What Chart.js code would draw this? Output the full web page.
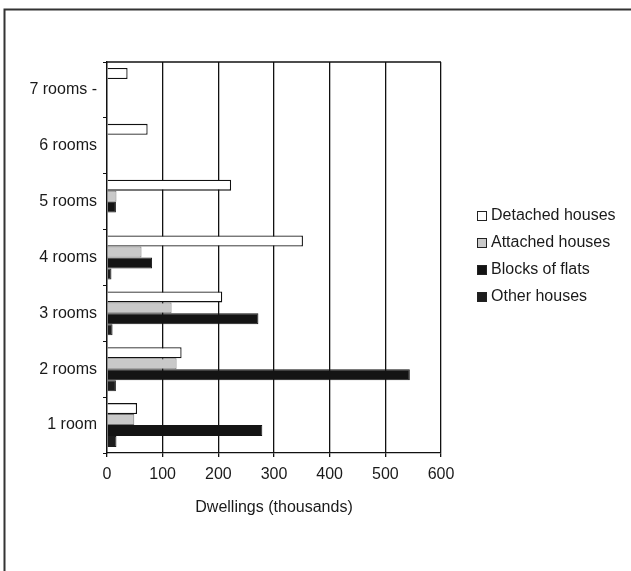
<!DOCTYPE html>
<html>
<head>
<meta charset="utf-8">
<script src="https://cdn.jsdelivr.net/npm/chart.js@4"></script>
<style>
  html, body { margin: 0; padding: 0; background: #fff; }
  canvas { display: block; }
</style>
</head>
<body>
<canvas id="roomsChart" width="631" height="571"></canvas>
<script>
const categories = ['7 rooms -', '6 rooms', '5 rooms', '4 rooms', '3 rooms', '2 rooms', '1 room'];
const detached = [37, 73, 223, 352, 207, 134, 54];
const attached = [0, 0, 17, 62, 116, 125, 49];
const blocks = [0, 0, 16, 81, 272, 544, 279];
const other = [0, 0, 0, 8, 10, 16, 17];
const xTicks = [0, 100, 200, 300, 400, 500, 600];

const FONT = '"Liberation Sans", Arial, sans-serif';
const INK = '#1a1a1a';

// frame, top edge of the plot and the legend on the right
const extras = {
  id: 'extras',
  afterDraw(chart) {
    const ctx = chart.ctx;
    const area = chart.chartArea;
    ctx.save();
    ctx.strokeStyle = '#333';
    ctx.lineWidth = 2;
    ctx.beginPath();
    ctx.moveTo(4.5, 571);
    ctx.lineTo(4.5, 9.5);
    ctx.lineTo(631, 9.5);
    ctx.stroke();

    ctx.strokeStyle = '#111';
    ctx.lineWidth = 1.3;
    ctx.beginPath();
    ctx.moveTo(area.left, area.top);
    ctx.lineTo(area.right, area.top);
    ctx.stroke();

    ctx.font = '16px ' + FONT;
    ctx.textBaseline = 'middle';
    chart.data.datasets.forEach((ds, i) => {
      const y = 216 + i * 27;
      ctx.fillStyle = ds.backgroundColor;
      ctx.fillRect(477, y - 5, 10, 10);
      ctx.strokeStyle = '#222';
      ctx.lineWidth = 1;
      ctx.strokeRect(477.5, y - 4.5, 9, 9);
      ctx.fillStyle = INK;
      ctx.fillText(ds.label, 491, y);
    });
    ctx.restore();
  }
};

new Chart(document.getElementById('roomsChart'), {
  type: 'bar',
  data: {
    labels: categories,
    datasets: [
      { label: 'Detached houses', data: detached, backgroundColor: '#ffffff', borderColor: '#111', borderWidth: 1.3 },
      { label: 'Attached houses', data: attached, backgroundColor: '#c9c9c9', borderColor: '#777', borderWidth: 1 },
      { label: 'Blocks of flats', data: blocks, backgroundColor: '#141414', borderColor: '#141414', borderWidth: 1 },
      { label: 'Other houses', data: other, backgroundColor: '#1e1e1e', borderColor: '#1e1e1e', borderWidth: 1 }
    ]
  },
  options: {
    indexAxis: 'y',
    responsive: false,
    animation: false,
    datasets: { bar: { categoryPercentage: 0.786, barPercentage: 1, borderSkipped: 'start' } },
    layout: { padding: { left: 0, top: 62, right: 190, bottom: 0 } },
    plugins: { legend: { display: false }, tooltip: { enabled: false } },
    scales: {
      x: {
        min: 0,
        max: 600,
        afterBuildTicks: (axis) => { axis.ticks = xTicks.map(v => ({ value: v })); },
        afterFit: (axis) => { axis.height = 118; },
        grid: { color: '#111', lineWidth: 1.3, tickLength: 4 },
        border: { color: '#111', width: 1.3 },
        ticks: { color: INK, font: { family: FONT, size: 16 }, padding: 8 },
        title: {
          display: true,
          text: 'Dwellings (thousands)',
          color: INK,
          font: { family: FONT, size: 16 },
          padding: { top: 0, bottom: 54 }
        }
      },
      y: {
        afterFit: (axis) => { axis.width = 107; },
        grid: { drawOnChartArea: false, color: '#111', tickLength: 4, offset: true },
        border: { color: '#111', width: 1.3 },
        ticks: { color: INK, font: { family: FONT, size: 16 }, padding: 6 }
      }
    }
  },
  plugins: [extras]
});
</script>
</body>
</html>
